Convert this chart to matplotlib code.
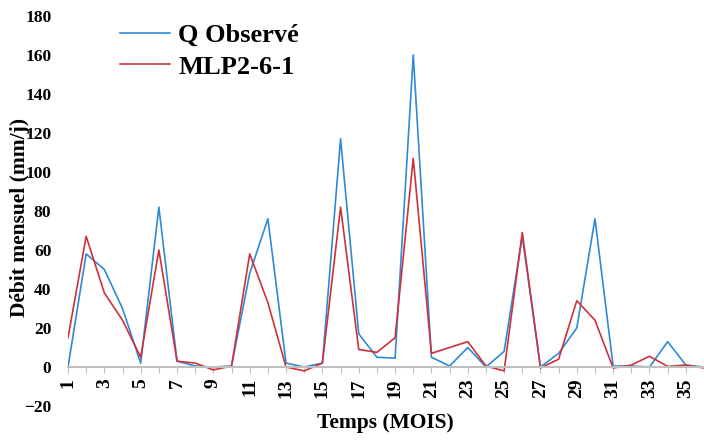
import matplotlib.pyplot as plt

# Temps (mois)
mois = list(range(1, 37))

# Débit observé
q_observe = [0, 58, 50, 30, 2, 82, 3, 0.5, 0, 0.5, 48, 76,
             2, 0, 2, 117, 17, 5, 4.5, 160, 5, 0.5, 10, 0,
             8, 67, 0, 7, 20, 76, 0.5, 0.5, 0, 13, 1, 0]

# Débit simulé MLP2-6-1
mlp = [15, 67, 38, 24, 5, 60, 3, 2, -1.5, 0.5, 58, 33,
       0, -2, 2, 82, 9, 7.5, 15, 107, 7, 10, 13, 0.5,
       -2, 69, -0.5, 4, 34, 24, -0.5, 1, 5.5, 0.3, 1, -0.5]

plt.rcParams['font.family'] = ['Liberation Serif', 'DejaVu Serif']
plt.rcParams['font.weight'] = 'bold'

fig = plt.figure(figsize=(7.04, 4.41), dpi=100)
ax = fig.add_axes([68 / 704, 35 / 441, 636 / 704, 390 / 441])

ax.plot(mois, q_observe, color='#2E8AD6', lw=1.2, label='Q Observé')
ax.plot(mois, mlp, color='#D0303A', lw=1.2, label='MLP2-6-1')

ax.set_xlim(1, 36)
ax.set_ylim(-20, 180)
ax.set_yticks(range(-20, 181, 20))

ax.set_xticks(mois)
ax.set_xticklabels([str(m) if m % 2 == 1 else '' for m in mois])
ax.tick_params(axis='x', length=4, color='#BFBFBF', pad=4,
               labelrotation=90, labelsize=14)
ax.tick_params(axis='y', length=0, labelsize=12.5, pad=12)

for s in ['top', 'right', 'left']:
    ax.spines[s].set_visible(False)
ax.spines['bottom'].set_position(('data', 0))
ax.spines['bottom'].set_color('#BFBFBF')
ax.spines['bottom'].set_linewidth(1.5)

fig.text(0.014, 0.508, 'Débit mensuel (mm/j)', rotation=90, va='center', ha='left',
         fontsize=15.5, fontweight='bold')
fig.text(0.547, 0.04, 'Temps (MOIS)', ha='center', va='center',
         fontsize=15.5, fontweight='bold')

ax.legend(loc='upper left', bbox_to_anchor=(0.082, 0.98), frameon=False,
          prop={'size': 19, 'weight': 'bold'}, handlelength=1.9,
          labelspacing=0.3, handletextpad=0.3, borderpad=0, borderaxespad=0)

fig.savefig('out.png', dpi=100)
